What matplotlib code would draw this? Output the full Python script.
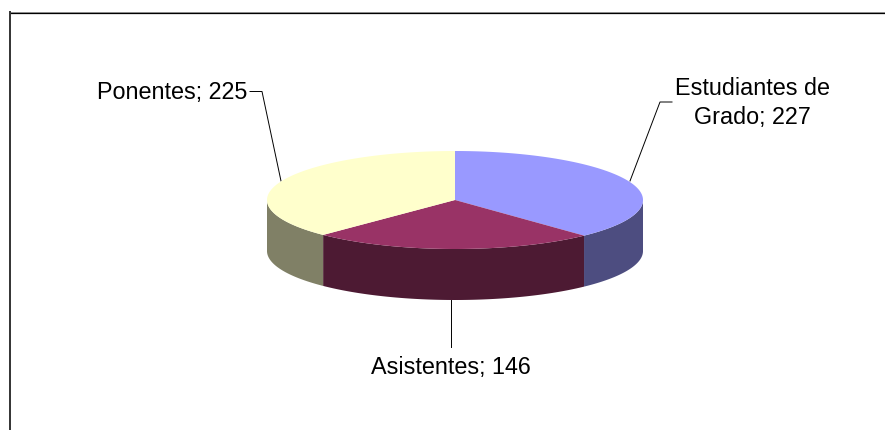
import numpy as np
import matplotlib
matplotlib.use("Agg")
import matplotlib.pyplot as plt
from matplotlib.patches import Polygon

plt.rcParams['font.family'] = ['Liberation Sans', 'DejaVu Sans']

# data
categories = ["Estudiantes de\nGrado", "Asistentes", "Ponentes"]
values = [227, 146, 225]
top_colors = ["#9999ff", "#993366", "#ffffcc"]
side_colors = ["#4d4d80", "#4d1a33", "#808066"]

# pie geometry in pixels
cx, cy = 455, 200
rx, ry = 188, 49
depth = 51


def rim(t):
    # t in degrees clockwise from 12 o'clock, y axis points down
    t = np.radians(t)
    return cx + rx * np.sin(t), cy - ry * np.cos(t)


fig = plt.figure(figsize=(8.85, 4.30), dpi=100)
ax = fig.add_axes([0, 0, 1, 1])
ax.set_xlim(0, 885)
ax.set_ylim(430, 0)
ax.axis("off")

# chart border, only top and left show up
ax.plot([10, 885], [11.5, 11.5], color="#a0a0a0", lw=0.72, solid_capstyle="butt")
ax.plot([10, 885], [12.5, 12.5], color="black", lw=0.9, solid_capstyle="butt")
ax.plot([10, 10], [11, 430], color="#333333", lw=1.4, solid_capstyle="butt")

edges = np.concatenate([[0], np.cumsum(values)]) / sum(values) * 360

# side walls first, only the front half of the rim is visible
for i in range(len(values)):
    a = max(edges[i], 90)
    b = min(edges[i + 1], 270)
    t = np.linspace(a, b, 80)
    x, y = rim(t)
    pts = np.concatenate([np.c_[x, y], np.c_[x[::-1], y[::-1] + depth]])
    ax.add_patch(Polygon(pts, closed=True, fc=side_colors[i], ec="none", zorder=2))

# top face
for i in range(len(values)):
    t = np.linspace(edges[i], edges[i + 1], 160)
    x, y = rim(t)
    pts = np.concatenate([[[cx, cy]], np.c_[x, y]])
    ax.add_patch(Polygon(pts, closed=True, fc=top_colors[i], ec="none", zorder=3))

# leader lines
ax.plot([250, 262, 281], [91.5, 91.5, 181], color="black", lw=0.7, zorder=1)
ax.plot([672, 660, 630], [102, 102, 181], color="black", lw=0.7, zorder=1)
ax.plot([451, 451], [300, 347], color="black", lw=0.7, zorder=1)

# labels
fs = 16.8
ax.text(247, 99, f"{categories[2]}; {values[2]}", ha="right", va="baseline", fontsize=fs, color="black")
first, second = categories[0].split("\n")
ax.text(752.5, 95, first, ha="center", va="baseline", fontsize=fs, color="black")
ax.text(752, 124, f"{second}; {values[0]}", ha="center", va="baseline", fontsize=fs, color="black")
ax.text(450.5, 374, f"{categories[1]}; {values[1]}", ha="center", va="baseline", fontsize=fs, color="black")

fig.savefig("out.png", dpi=100)
